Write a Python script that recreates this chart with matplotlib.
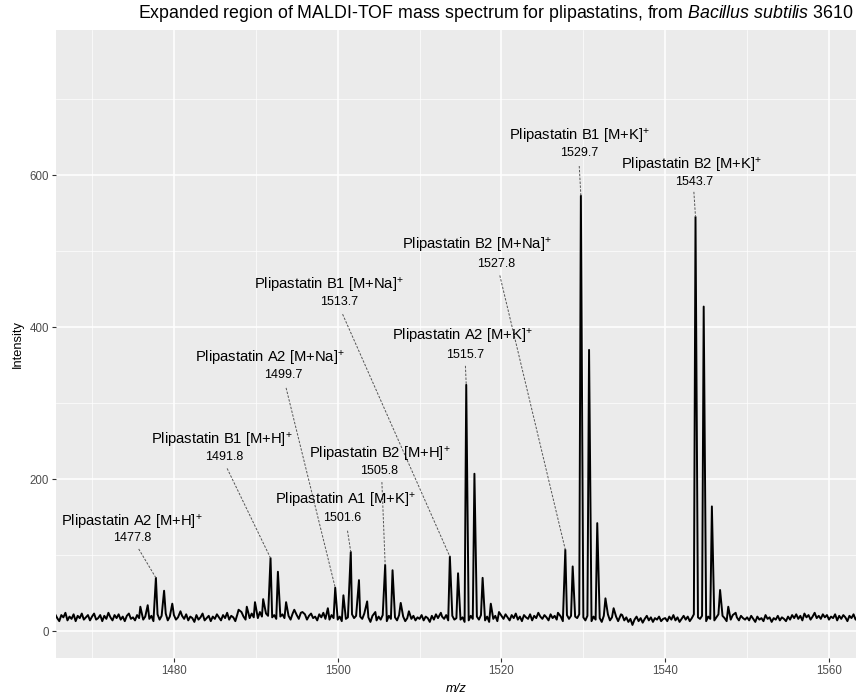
import numpy as np
import matplotlib
matplotlib.use("Agg")
import matplotlib.pyplot as plt

plt.rcParams['font.family'] = ['Liberation Sans', 'DejaVu Sans']
plt.rcParams['mathtext.fontset'] = 'custom'
plt.rcParams['mathtext.rm'] = 'Liberation Sans'
plt.rcParams['mathtext.it'] = 'Liberation Sans:italic'

# peaks: m/z and intensity at the apex
peak_mz = [1475.9, 1476.8, 1477.8, 1478.8, 1479.8, 1480.8,
           1487.9, 1488.9, 1489.9, 1490.9, 1491.8, 1492.7, 1493.7, 1494.7, 1495.7,
           1498.8, 1499.7, 1500.7, 1501.6, 1502.6, 1503.6, 1504.6,
           1505.8, 1506.7, 1507.7, 1508.7, 1512.6,
           1513.7, 1514.7, 1515.7, 1516.7, 1517.7, 1518.7, 1519.7,
           1526.9, 1527.8, 1528.7, 1529.7, 1530.7, 1531.7, 1532.7, 1533.7, 1534.6,
           1543.7, 1544.7, 1545.7, 1546.7, 1547.7, 1548.6]
peak_int = [32, 34, 70, 53, 36, 26,
            28, 32, 38, 42, 96, 78, 38, 28, 25,
            30, 57, 47, 104, 67, 39, 25,
            87, 80, 37, 26, 24,
            98, 76, 324, 207, 70, 36, 25,
            24, 107, 85, 573, 370, 142, 43, 30, 22,
            545, 427, 164, 54, 32, 24]

# noisy baseline, every 0.25 m/z from 1465.0
baseline_start = 1465.0
baseline_step = 0.25
baseline = [
    20, 15, 22, 17, 13, 21, 18, 24, 14, 19, 16, 22, 13, 20, 17, 23, 15, 18, 21, 14,
    19, 23, 15, 17, 21, 13, 20, 16, 24, 18, 14, 21, 17, 22, 15, 19, 13, 20, 23, 16,
    18, 14, 21, 17, 22, 15, 19, 24, 16, 20, 13, 18, 22, 15, 20, 17, 23, 14, 19, 16,
    21, 15, 18, 13, 20, 16, 22, 14, 19, 17, 12, 21, 15, 18, 23, 14, 17, 20, 13, 19,
    16, 22, 18, 14, 21, 17, 24, 15, 20, 18, 13, 22, 16, 25, 19, 15, 21, 17, 23, 18,
    22, 17, 25, 19, 15, 23, 20, 26, 18, 21, 16, 24, 19, 22, 17, 25, 20, 15, 23, 19,
    21, 16, 24, 18, 22, 15, 20, 23, 17, 19, 14, 22, 18, 24, 16, 20, 15, 21, 17, 23,
    15, 19, 13, 21, 16, 18, 14, 22, 17, 20, 13, 19, 16, 23, 15, 18, 12, 20, 17, 14,
    19, 15, 21, 17, 13, 20, 16, 22, 18, 14, 21, 15, 19, 13, 17, 22, 16, 20, 14, 18,
    16, 21, 14, 19, 17, 12, 20, 15, 22, 17, 13, 19, 16, 21, 14, 18, 20, 15, 17, 13,
    15, 18, 12, 17, 14, 20, 16, 13, 19, 15, 21, 17, 14, 19, 12, 18, 16, 20, 13, 17,
    20, 16, 22, 18, 14, 21, 17, 23, 15, 19, 13, 21, 18, 16, 22, 14, 20, 17, 24, 19,
    16, 21, 18, 14, 22, 17, 20, 15, 23, 19, 13, 18, 21, 16, 20, 14, 19, 17, 22, 15,
    18, 14, 20, 16, 13, 19, 15, 21, 17, 12, 20, 16, 22, 14, 18, 15, 19, 13, 17, 21,
    14, 18, 12, 16, 8, 15, 19, 13, 17, 11, 16, 20, 14, 18, 12, 17, 15, 19, 13, 16,
    17, 13, 19, 15, 21, 14, 18, 12, 16, 20, 15, 19, 13, 17, 22, 14, 18, 16, 20, 15,
    13, 19, 16, 21, 14, 18, 22, 15, 20, 17, 13, 19, 15, 21, 16, 18, 14, 20, 17, 15,
    18, 14, 20, 16, 12, 19, 15, 17, 13, 21, 16, 18, 12, 17, 15, 20, 14, 18, 16, 13,
    19, 15, 21, 17, 22, 16, 20, 14, 23, 18, 21, 15, 19, 24, 17, 20, 16, 22, 18, 21,
    15, 19, 17, 22, 14, 20, 16, 21, 18, 13, 20, 17, 22, 15, 19, 16, 21, 14, 18, 17,
]

# annotated compounds
label_names = ["Plipastatin A2 [M+H]", "Plipastatin B1 [M+H]", "Plipastatin A2 [M+Na]",
               "Plipastatin B1 [M+Na]", "Plipastatin B2 [M+H]", "Plipastatin A1 [M+K]",
               "Plipastatin A2 [M+K]", "Plipastatin B2 [M+Na]", "Plipastatin B1 [M+K]",
               "Plipastatin B2 [M+K]"]
label_mz = [1477.8, 1491.8, 1499.7, 1513.7, 1505.8, 1501.6, 1515.7, 1527.8, 1529.7, 1543.7]

# label placement (data coords)
name_xy = [(1474.9, 143), (1485.9, 251), (1491.7, 359), (1498.9, 455), (1505.2, 232),
           (1500.9, 172), (1515.2, 387), (1517.0, 507), (1529.5, 651), (1543.2, 613)]
num_xy = [(1474.9, 122), (1486.1, 229), (1493.4, 337), (1500.2, 433), (1505.1, 210),
          (1500.5, 149), (1515.6, 363), (1519.4, 483), (1529.5, 629), (1543.5, 591)]
seg_start = [(1475.7, 108), (1486.5, 214), (1493.7, 320), (1500.6, 417), (1505.4, 196),
             (1501.2, 132), (1515.6, 349), (1519.8, 468), (1529.5, 612), (1543.5, 578)]

# build spectrum polyline
bx = baseline_start + baseline_step * np.arange(len(baseline))
by = np.array(baseline, dtype=float)
pmz = np.array(peak_mz)
keep = np.array([np.min(np.abs(pmz - v)) > 0.12 for v in bx])
mz = np.concatenate([bx[keep], pmz])
inten = np.concatenate([by[keep], np.array(peak_int, dtype=float)])
order = np.argsort(mz)
mz = mz[order]
inten = inten[order]

fig = plt.figure(figsize=(8.56, 6.94), dpi=100)
ax = fig.add_axes([56 / 856, 36 / 694, 800 / 856, 628 / 694])
ax.set_facecolor('#EBEBEB')
for s in ax.spines.values():
    s.set_visible(False)

ax.set_xticks([1480, 1500, 1520, 1540, 1560])
ax.set_xticks([1470, 1490, 1510, 1530, 1550], minor=True)
ax.set_yticks([0, 200, 400, 600])
ax.set_yticks([100, 300, 500, 700], minor=True)
ax.grid(which='major', color='white', linewidth=1.1)
ax.grid(which='minor', color='white', linewidth=0.5)
ax.set_axisbelow(True)
ax.tick_params(which='major', length=3, width=0.8, color='#333333',
               labelsize=8.3, labelcolor='#4D4D4D', pad=2)
ax.tick_params(which='minor', length=0)

ax.plot(mz, inten, color='black', linewidth=1.4, solid_joinstyle='round')

ax.set_xlim(1465.6, 1563.3)
ax.set_ylim(-35.5, 791)

peak_lookup = dict(zip(peak_mz, peak_int))
for i, name in enumerate(label_names):
    m = label_mz[i]
    ax.text(name_xy[i][0], name_xy[i][1], name + r"$^{+}$", ha='center', va='center',
            fontsize=10.6, color='black')
    ax.text(num_xy[i][0], num_xy[i][1], "%.1f" % m, ha='center', va='center',
            fontsize=9, color='black')
    ax.plot([seg_start[i][0], m], [seg_start[i][1], peak_lookup[m]],
            color='#555555', linewidth=0.7, linestyle=(0, (2.5, 1.5)))

ax.set_xlabel("m/z", fontsize=9.3, style='italic', labelpad=4)
ax.set_ylabel("Intensity", fontsize=9.3, labelpad=4)

fig.text(496 / 856, 1 - 14 / 694,
         r"Expanded region of MALDI-TOF mass spectrum for plipastatins, from $\mathit{Bacillus\ subtilis}$ 3610",
         ha='center', va='center', fontsize=12.8)

fig.savefig("out.png", dpi=100)
